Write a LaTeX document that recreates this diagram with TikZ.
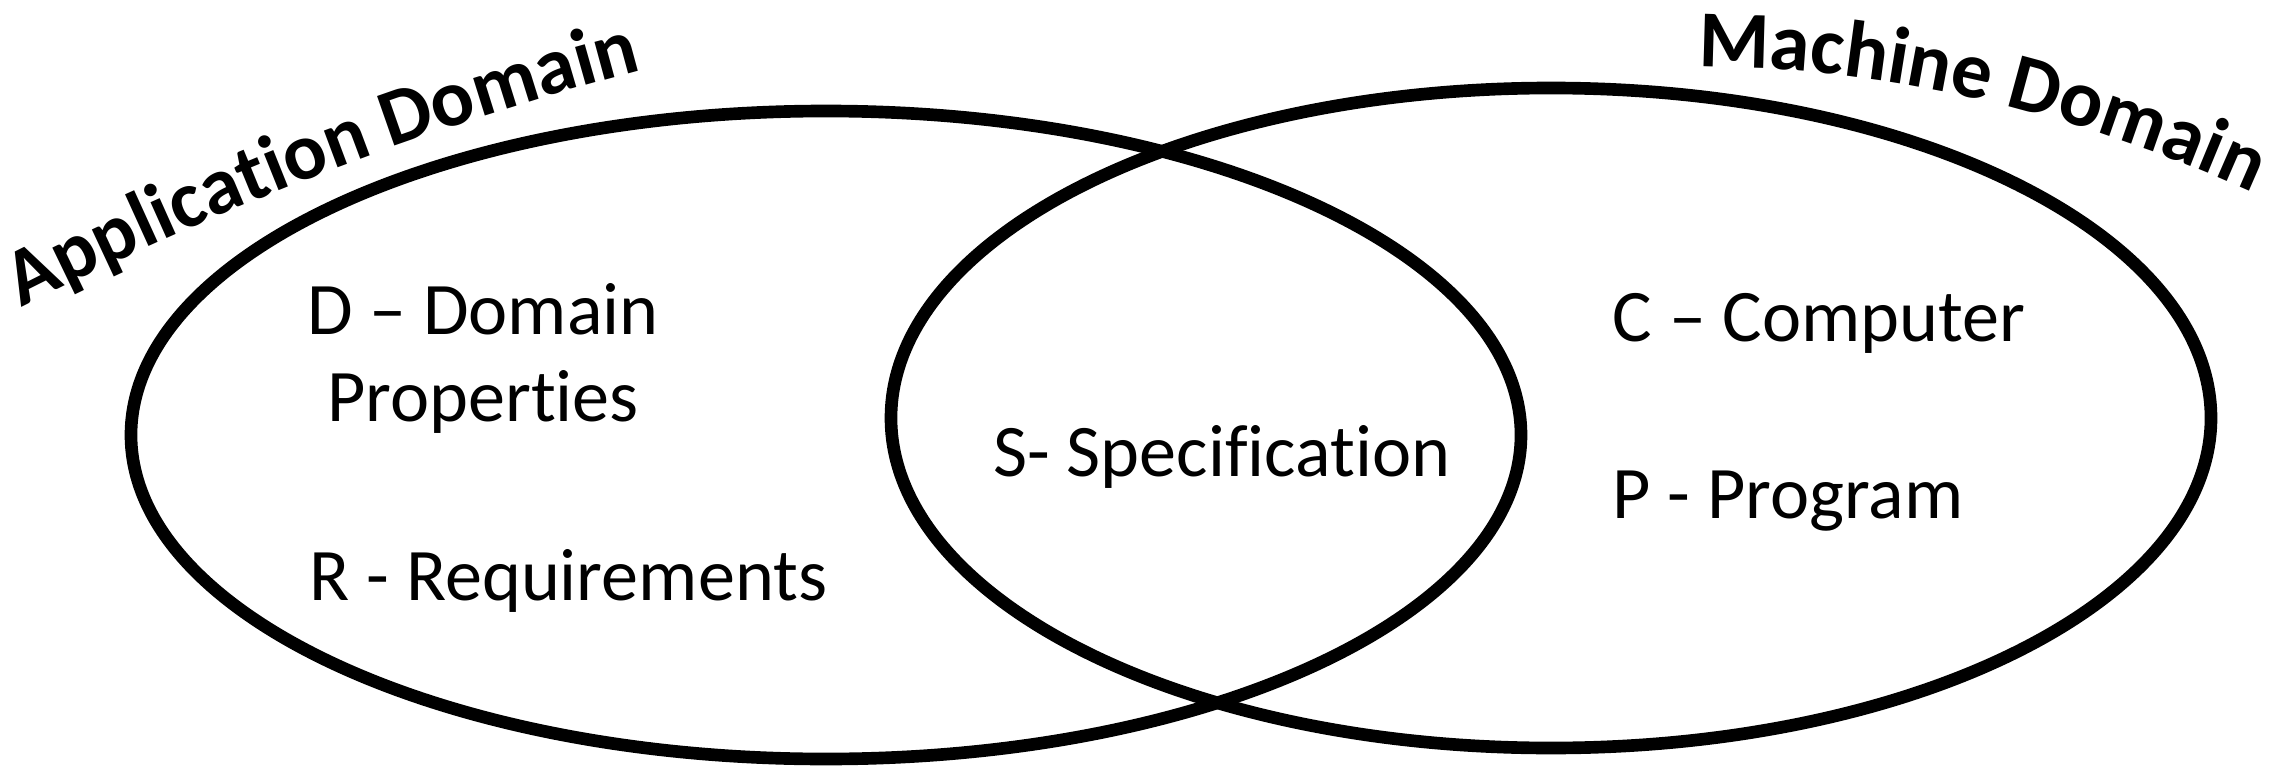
\documentclass[tikz,border=0pt]{standalone}
\usepackage{fontspec}
\setmainfont{Carlito}[Ligatures=NoCommon]
\usetikzlibrary{shapes.geometric,decorations.text}
\newcommand\titlefont{\fontsize{23}{27}\selectfont\bfseries}
\tikzset{
  domainring/.style={draw, ellipse, line width=3.6pt, inner sep=0pt},
  itemtext/.style={font=\fontsize{21.1}{25}\selectfont, inner sep=0pt},
  titlepath/.style={decorate, decoration={text along path, text={|\titlefont|#1}}}
}
\begin{document}
\begin{tikzpicture}
      \useasboundingbox (0,0) rectangle (22.77,7.67);
      \node[domainring, minimum width=13.9cm, minimum height=6.48cm] (appdom) at (8.26,3.32) {};
      \node[domainring, minimum width=13.2cm, minimum height=6.6cm] (machdom) at (15.51,3.49) {};
      \path[titlepath={Application Domain}] (0.22,4.59) .. controls (2.2,5.6) and (4.26,6.4) .. (6.42,6.97);
      \path[titlepath={Machine Domain}] (16.98,7.0) .. controls (18.9,7.0) and (20.7,6.55) .. (22.4,5.8);
         \node [itemtext, anchor=base] (ddom) at (4.83,4.33) {D – Domain};
         \node [itemtext, anchor=base] (dprop) at ([yshift=-0.87cm]ddom.base) {Properties};
         \node [itemtext, anchor=base west] (rreq) at (3.09,1.67) {R - Requirements};
         \node [itemtext, anchor=base west] (sspec) at (9.93,2.91) {S- Specification};
         \node [itemtext, anchor=base west] (ccomp) at (16.12,4.26) {C – Computer};
         \node [itemtext, anchor=base west] (pprog) at (16.12,2.49) {P - Program};
   \end{tikzpicture}
\end{document}
